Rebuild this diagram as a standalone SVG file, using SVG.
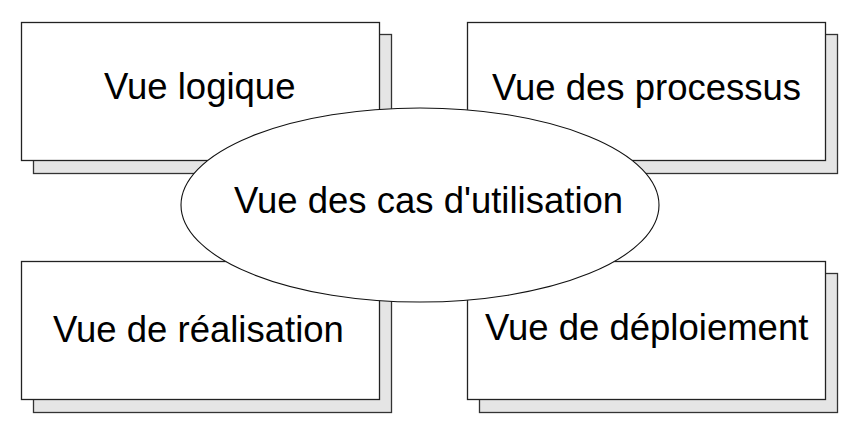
<svg xmlns="http://www.w3.org/2000/svg" width="867" height="435" viewBox="0 0 867 435">
<style>
.shadow{fill:#e5e5e5;stroke:#333;stroke-width:1.3}
.box{fill:#fff;stroke:#222;stroke-width:1.3}
.oval{fill:#fff;stroke:#111;stroke-width:1.1}
.lbl{font-family:"Liberation Sans",Arial,sans-serif;font-size:36.5px;fill:#000}
</style>
<rect width="867" height="435" fill="#fff"/>
<g id="vue-logique">
<rect class="shadow" x="33.5" y="34.5" width="358" height="139"/>
<rect class="box" x="21.5" y="22.5" width="358" height="138"/>
<text class="lbl" x="104" y="99">Vue logique</text>
</g>
<g id="vue-processus">
<rect class="shadow" x="479.5" y="34.5" width="358" height="139"/>
<rect class="box" x="467.5" y="22.5" width="358" height="138"/>
<text class="lbl" x="492" y="100">Vue des processus</text>
</g>
<g id="vue-realisation">
<rect class="shadow" x="33.5" y="273.5" width="358" height="139"/>
<rect class="box" x="21.5" y="261.5" width="358" height="138"/>
<text class="lbl" x="53" y="342">Vue de réalisation</text>
</g>
<g id="vue-deploiement">
<rect class="shadow" x="479.5" y="273.5" width="358" height="139"/>
<rect class="box" x="467.5" y="261.5" width="358" height="138"/>
<text class="lbl" x="485" y="340">Vue de déploiement</text>
</g>
<g id="vue-cas-utilisation">
<ellipse class="oval" cx="420" cy="205" rx="239" ry="97"/>
<text class="lbl" x="234" y="213">Vue des cas d'utilisation</text>
</g>
<g id="connectors"></g>
</svg>
